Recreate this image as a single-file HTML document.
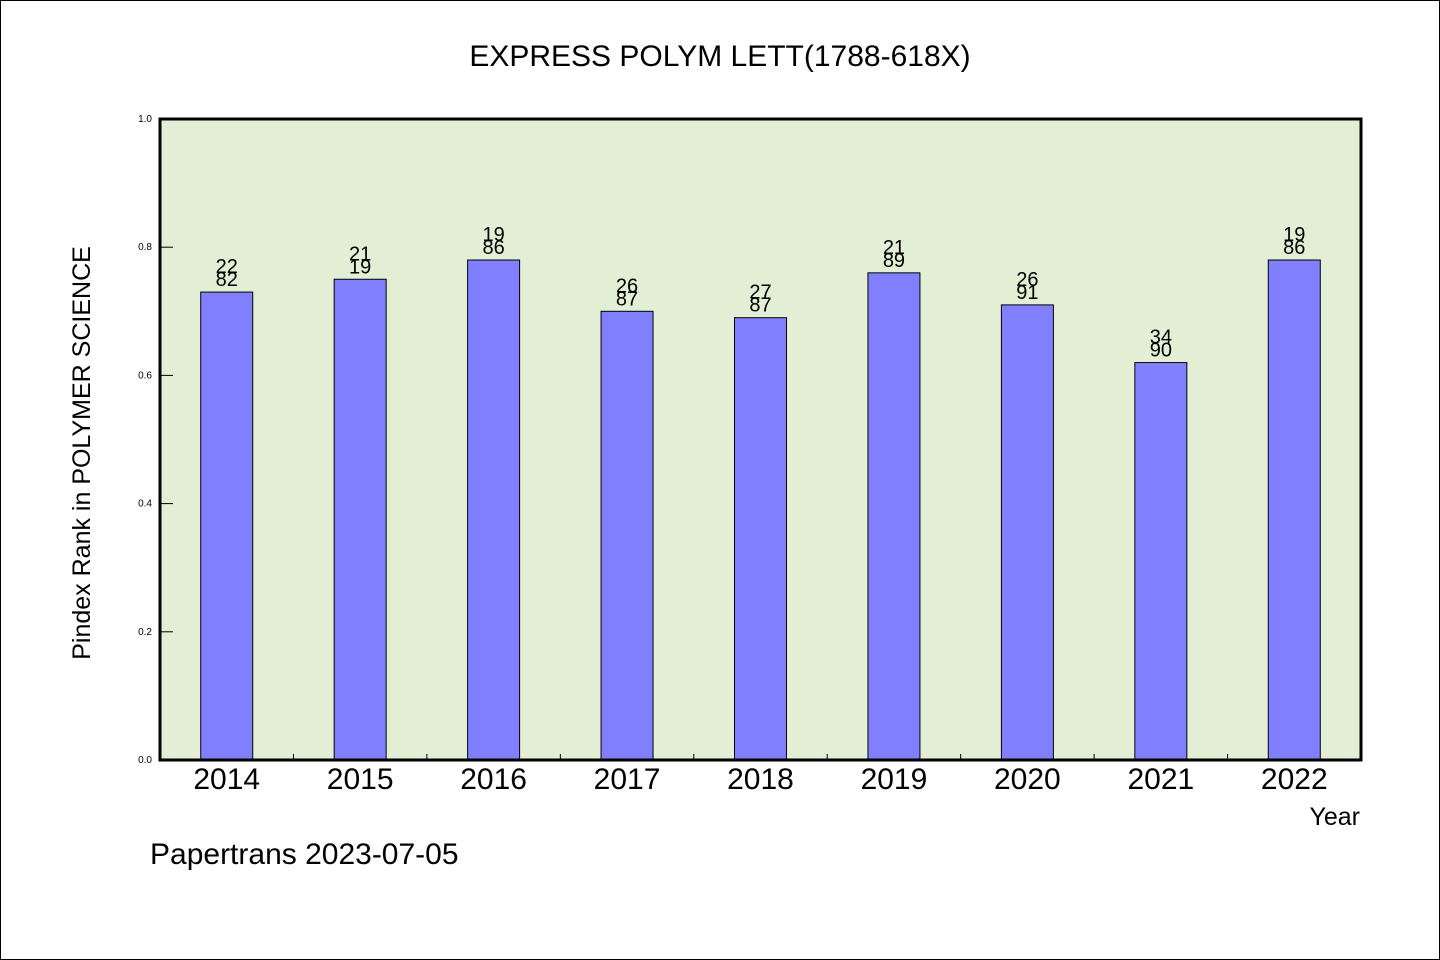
<!DOCTYPE html>
<html><head><meta charset="utf-8"><style>
html,body{margin:0;padding:0;background:#fff}
svg{display:block}
text{font-family:"Liberation Sans","WenQuanYi Zen Hei",sans-serif;fill:#000}
</style></head><body>
<svg id="chart" width="1440" height="960">
<rect x="0.5" y="0.5" width="1439" height="959" fill="#fff" stroke="#000"/>
<text x="720" y="66" font-size="30" text-anchor="middle">EXPRESS POLYM LETT(1788-618X)</text>
<rect x="160" y="119" width="1201" height="641" fill="#e2efd5"/>
<g id="bars"></g>
<g id="yticks"></g>
<g id="xticks"></g>
<rect x="160" y="119" width="1201" height="641" fill="none" stroke="#000" stroke-width="3"/>
<text transform="translate(90,453) rotate(-90)" font-size="25" text-anchor="middle">Pindex Rank in POLYMER SCIENCE</text>
<text x="1360" y="825" font-size="25" text-anchor="end">Year</text>
<text x="150" y="864" font-size="30">Papertrans 2023-07-05</text>
</svg>
<script>
const categories=["2014","2015","2016","2017","2018","2019","2020","2021","2022"];
const values=[0.73,0.75,0.78,0.70,0.69,0.76,0.71,0.62,0.78];
const ranks=["22","21","19","26","27","21","26","34","19"];
const totals=["82","19","86","87","87","89","91","90","86"];
const yTicks=[0,0.2,0.4,0.6,0.8,1.0];
const yTickLabels=["0.0","0.2","0.4","0.6","0.8","1.0"];
const NS="http://www.w3.org/2000/svg";
const X0=160,W=1201,Y0=760,H=641;
const band=W/categories.length;
const xc=i=>X0+band*(i+0.5);
const y=v=>Y0-v*H;
function mk(t,a,p){const e=document.createElementNS(NS,t);for(const k in a)e.setAttribute(k,a[k]);p.appendChild(e);return e;}
const bars=document.getElementById('bars'),yt=document.getElementById('yticks'),xt=document.getElementById('xticks');
const bw=52;
categories.forEach((c,i)=>{
 const r=mk('rect',{x:xc(i)-bw/2,y:y(values[i]),width:bw,height:Y0-y(values[i]),fill:'#8080ff',stroke:'#000','stroke-width':1},bars);
 
 
 const t1=mk('text',{x:xc(i),y:y(values[i])-19,'font-size':20,'text-anchor':'middle'},bars);
 t1.textContent=ranks[i];
 
 
 const t2=mk('text',{x:xc(i),y:y(values[i])-6,'font-size':20,'text-anchor':'middle'},bars);
 t2.textContent=totals[i];
 
 
 const xl=mk('text',{x:xc(i),y:789,'font-size':30,'text-anchor':'middle'},xt);
 xl.textContent=c;
 
 
 if(i>0){const tk=mk('line',{x1:X0+band*i,x2:X0+band*i,y1:Y0,y2:Y0-6,stroke:'#000'},xt);
 
 }
});
yTicks.forEach((v,i)=>{
 const l=mk('line',{x1:X0,x2:X0+13,y1:y(v),y2:y(v),stroke:'#000'},yt);
 
 
 const t=mk('text',{x:152,y:y(v)+3,'font-size':10,'text-anchor':'end'},yt);
 t.textContent=yTickLabels[i];
 
 
});
</script>
</body></html>
